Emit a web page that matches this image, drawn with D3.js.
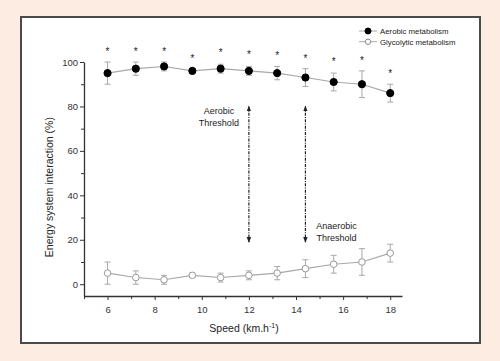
<!DOCTYPE html>
<html>
<head>
<meta charset="utf-8">
<script src="https://cdn.jsdelivr.net/npm/d3@7"></script>
<style>
  html, body { margin: 0; padding: 0; background: #fdece2; }
  svg { display: block; }
</style>
</head>
<body>
<div id="chart"></div>
<script>
// ── Data ────────────────────────────────────────────────────────────────────
const speeds      = [6, 7.2, 8.4, 9.6, 10.8, 12, 13.2, 14.4, 15.6, 16.8, 18];
const aerobicMean = [95, 97, 98, 96, 97, 96, 95, 93, 91, 90, 86];
const aerobicSD   = [5, 3, 2, 1, 2, 2, 3, 4, 4, 6, 4];
const glycoMean   = [5, 3, 2, 4, 3, 4, 5, 7, 9, 10, 14];
const glycoSD     = [5, 3, 2, 1, 2, 2, 3, 4, 4, 6, 4];
const starY       = [105, 105, 105, 102, 104.3, 103.5, 103.2, 102, 100.4, 101, 95.2];
const xTicks      = [6, 8, 10, 12, 14, 16, 18];
const yTicks      = [0, 20, 40, 60, 80, 100];
const thresholds  = [
  { x: 12,   y0: 80, y1: 19, lines: ['Aerobic', 'Threshold'],   side: 'left' },
  { x: 14.4, y0: 80, y1: 19, lines: ['Anaerobic', 'Threshold'], side: 'right' }
];

const W = 500, H = 361;
const font = 'Arial, "Liberation Sans", sans-serif';

const svg = d3.select('#chart').append('svg').attr('width', W).attr('height', H);

// Background + framed panel
svg.append('rect').attr('width', W).attr('height', H).attr('fill', '#fdece2');
svg.append('rect').attr('x', 21).attr('y', 17).attr('width', 459).attr('height', 326)
  .attr('fill', '#fff').attr('stroke', '#4a4a4a').attr('stroke-width', 2);

const x = d3.scaleLinear().domain([5, 18.5]).range([84, 402]);
const y = d3.scaleLinear().domain([-5.3, 100]).range([296, 62]);

// ── Axes ────────────────────────────────────────────────────────────────────
const xAxis = svg.append('g').attr('transform', `translate(0,${y.range()[0]})`)
  .call(d3.axisBottom(x).tickValues(d3.range(5, 19, 1)).tickSize(3).tickSizeOuter(0)
    .tickFormat(d => xTicks.includes(d) ? d : ''));
const yAxis = svg.append('g').attr('transform', `translate(${x.range()[0]},0)`)
  .call(d3.axisLeft(y).tickValues(d3.range(0, 101, 10)).tickSize(3).tickSizeOuter(0)
    .tickFormat(d => yTicks.includes(d) ? d : ''));

[xAxis, yAxis].forEach(a => {
  a.select('.domain').attr('stroke', '#333').attr('stroke-width', 1.3);
  a.selectAll('.tick line').attr('stroke', '#333');
  a.selectAll('.tick text').attr('fill', '#333').attr('font-size', 9.5).attr('font-family', font);
});
xAxis.selectAll('.tick').filter(d => xTicks.includes(d)).select('line').attr('y2', 4);
yAxis.selectAll('.tick').filter(d => yTicks.includes(d)).select('line').attr('x2', -4);
xAxis.selectAll('.tick text').attr('dy', '1.2em');

// Axis titles
svg.append('text')
  .attr('transform', `translate(53,${(y(0) + y(100)) / 2 + 14}) rotate(-90)`)
  .attr('text-anchor', 'middle').attr('font-size', 10.5).attr('font-family', font).attr('fill', '#222')
  .text('Energy system interaction (%)');
const xl = svg.append('text')
  .attr('x', 244).attr('y', 332)
  .attr('text-anchor', 'middle').attr('font-size', 10.5).attr('font-family', font).attr('fill', '#222');
xl.append('tspan').text('Speed (km.h');
xl.append('tspan').attr('dy', -4).attr('font-size', 7).text('-1');
xl.append('tspan').attr('dy', 4).text(')');

// ── Series ─────────────────────────────────────────────────────────────────
const grey = '#a8a8a8';
function drawSeries(means, sds, filled) {
  const pts = speeds.map((s, i) => ({ s, m: means[i], sd: sds[i] }));
  svg.append('path').datum(pts)
    .attr('fill', 'none').attr('stroke', grey).attr('stroke-width', 1.1)
    .attr('d', d3.line().x(d => x(d.s)).y(d => y(d.m)));
  const eb = svg.append('g').attr('stroke', grey).attr('stroke-width', 1);
  pts.forEach(d => {
    eb.append('line').attr('x1', x(d.s)).attr('x2', x(d.s)).attr('y1', y(d.m - d.sd)).attr('y2', y(d.m + d.sd));
    [d.m - d.sd, d.m + d.sd].forEach(v =>
      eb.append('line').attr('x1', x(d.s) - 3).attr('x2', x(d.s) + 3).attr('y1', y(v)).attr('y2', y(v)));
  });
  svg.append('g').selectAll('circle').data(pts).join('circle')
    .attr('cx', d => x(d.s)).attr('cy', d => y(d.m)).attr('r', filled ? 3.6 : 3.3)
    .attr('fill', filled ? '#000' : '#fff')
    .attr('stroke', filled ? '#000' : '#999').attr('stroke-width', 1);
}
drawSeries(aerobicMean, aerobicSD, true);
drawSeries(glycoMean, glycoSD, false);

// Significance stars
svg.append('g').selectAll('text').data(speeds).join('text')
  .attr('x', d => x(d)).attr('y', (d, i) => y(starY[i]) + 4)
  .attr('text-anchor', 'middle').attr('font-size', 10).attr('font-family', font).attr('fill', '#222')
  .text('*');

// ── Threshold arrows ───────────────────────────────────────────────────────
const defs = svg.append('defs');
defs.append('marker').attr('id', 'arr').attr('viewBox', '0 0 6 6').attr('refX', 5).attr('refY', 3)
  .attr('markerWidth', 5).attr('markerHeight', 5).attr('orient', 'auto-start-reverse')
  .append('path').attr('d', 'M0,0.8 L6,3 L0,5.2 Z').attr('fill', '#222');

thresholds.forEach(t => {
  svg.append('line')
    .attr('x1', x(t.x)).attr('x2', x(t.x)).attr('y1', y(t.y0)).attr('y2', y(t.y1))
    .attr('stroke', '#222').attr('stroke-width', 1.2).attr('stroke-dasharray', '3,1.2,1,1.2')
    .attr('marker-start', 'url(#arr)').attr('marker-end', 'url(#arr)');
  const tx = t.side === 'left' ? x(t.x) - 30 : x(t.x) + 31;
  const ty = t.side === 'left' ? y(t.y0) + 8 : y(t.y1) - 13;
  t.lines.forEach((ln, i) => svg.append('text')
    .attr('x', tx).attr('y', ty + i * 11.5).attr('text-anchor', 'middle')
    .attr('font-size', 9).attr('font-family', font).attr('fill', '#222').text(ln));
});

// ── Legend ─────────────────────────────────────────────────────────────────
const legend = [
  { label: 'Aerobic metabolism', filled: true },
  { label: 'Glycolytic metabolism', filled: false }
];
legend.forEach((l, i) => {
  const ly = 31 + i * 10.7;
  svg.append('line').attr('x1', 359).attr('x2', 377).attr('y1', ly).attr('y2', ly)
    .attr('stroke', grey).attr('stroke-width', 1);
  svg.append('circle').attr('cx', 368).attr('cy', ly).attr('r', l.filled ? 3 : 2.7)
    .attr('fill', l.filled ? '#000' : '#fff').attr('stroke', l.filled ? '#000' : '#888');
  svg.append('text').attr('x', 380).attr('y', ly + 3).attr('font-size', 7.8)
    .attr('font-family', font).attr('fill', '#222').text(l.label);
});
</script>
</body>
</html>
